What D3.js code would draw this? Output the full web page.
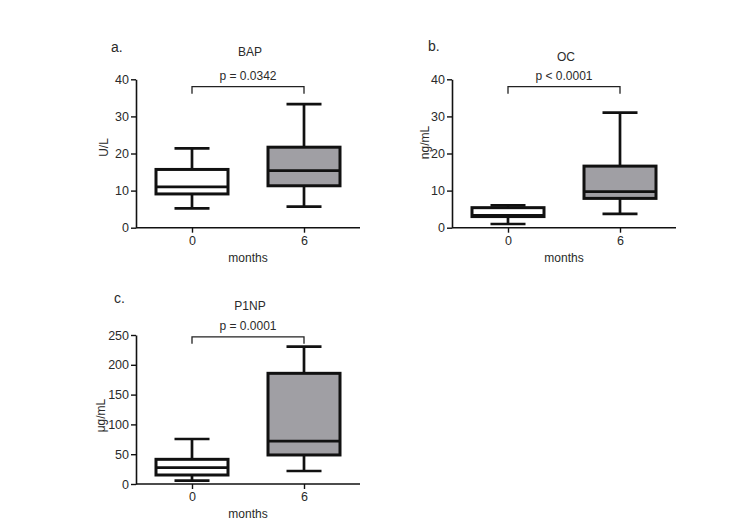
<!DOCTYPE html>
<html>
  <head>
    <meta http-equiv="Content-Type" content="text/html; charset=UTF-8">
    <script type="text/javascript" src="https://cdn.jsdelivr.net/npm/d3@7/dist/d3.min.js"></script>
    <style>
      body { margin: 0; background: #fff; }
      svg text { font-family: "Liberation Sans", Arial, sans-serif; fill: #2a2a2a; }
    </style>
  </head>
  <body>
    <div id="chart"></div>
    <script>
// data: [min, q1, median, q3, max] per group
var categories = ["0", "6"];
var bapStats = [[5.2, 9.1, 11.0, 15.7, 21.4], [5.7, 11.3, 15.4, 21.7, 33.3]];
var ocStats = [[1.0, 3.0, 3.3, 5.4, 6.0], [3.7, 7.9, 9.7, 16.6, 31.0]];
var p1npStats = [[5.6, 15.1, 27.4, 41.4, 75.5], [21.8, 48.7, 72.1, 185.7, 230.4]];
var bapTicks = [0, 10, 20, 30, 40];
var ocTicks = [0, 10, 20, 30, 40];
var p1npTicks = [0, 50, 100, 150, 200, 250];
var pLabels = ["p = 0.0342", "p < 0.0001", "p = 0.0001"];
var bracketValues = [38, 38, 247];

var fills = ["#ffffff", "#a09fa4"];

var svg = d3.select("#chart").append("svg")
    .attr("width", 750)
    .attr("height", 530);

var BoxPanel = function (config) {
  var left = config.left, top = config.top, bottom = config.bottom;
  var x = d3.scalePoint().domain(categories).range([left, left + 224]).padding(0.5);
  var y = d3.scaleLinear().domain([0, config.ticks[config.ticks.length - 1]]).range([bottom, top]);
  var boxW = 72, capW = 35;

  var g = svg.append("g");

  // y axis
  var ya = g.append("g")
      .attr("transform", "translate(" + left + ",0)")
      .call(d3.axisLeft(y).tickValues(config.ticks).tickSize(5).tickPadding(2).tickSizeOuter(0));
  // x axis
  var xa = g.append("g")
      .attr("transform", "translate(0," + bottom + ")")
      .call(d3.axisBottom(x).tickSize(5).tickPadding(3).tickSizeOuter(0));
  [ya, xa].forEach(function (a) {
    a.select(".domain").attr("stroke", "#111").attr("stroke-width", 1.6);
    a.selectAll(".tick line").attr("stroke", "#111").attr("stroke-width", 1.4);
    a.selectAll(".tick text").attr("font-size", "12.5px").attr("fill", "#2a2a2a")
      .attr("font-family", "Liberation Sans, Arial, sans-serif");
  });
  xa.select(".domain").attr("d", "M" + left + ",0H" + (left + 224));

  // boxes
  var box = g.selectAll(".box")
      .data(config.stats)
    .enter().append("g")
      .attr("class", "box");

  box.append("line")
      .attr("x1", function (d, i) { return x(categories[i]); })
      .attr("x2", function (d, i) { return x(categories[i]); })
      .attr("y1", function (d) { return y(d[0]); })
      .attr("y2", function (d) { return y(d[4]); })
      .attr("stroke", "#111").attr("stroke-width", 2.7);
  [0, 4].forEach(function (k) {
    box.append("line")
        .attr("x1", function (d, i) { return x(categories[i]) - capW / 2; })
        .attr("x2", function (d, i) { return x(categories[i]) + capW / 2; })
        .attr("y1", function (d) { return y(d[k]); })
        .attr("y2", function (d) { return y(d[k]); })
        .attr("stroke", "#111").attr("stroke-width", 2.7);
  });
  box.append("rect")
      .attr("x", function (d, i) { return x(categories[i]) - boxW / 2; })
      .attr("width", boxW)
      .attr("y", function (d) { return y(d[3]); })
      .attr("height", function (d) { return y(d[1]) - y(d[3]); })
      .attr("fill", function (d, i) { return fills[i]; })
      .attr("stroke", "#111").attr("stroke-width", 3);
  box.append("line")
      .attr("x1", function (d, i) { return x(categories[i]) - boxW / 2; })
      .attr("x2", function (d, i) { return x(categories[i]) + boxW / 2; })
      .attr("y1", function (d) { return y(d[2]); })
      .attr("y2", function (d) { return y(d[2]); })
      .attr("stroke", "#111").attr("stroke-width", 2.7);

  // significance bracket
  var by = y(config.bracket);
  g.append("path")
      .attr("d", "M" + x(categories[0]) + "," + (by + 7) + "V" + by + "H" + x(categories[1]) + "V" + (by + 7))
      .attr("fill", "none").attr("stroke", "#222").attr("stroke-width", 1.3);
  g.append("text")
      .attr("x", (x(categories[0]) + x(categories[1])) / 2)
      .attr("y", by - 7)
      .attr("text-anchor", "middle")
      .attr("font-size", "12px")
      .text(config.p);

  // titles
  g.append("text")
      .attr("x", left + 114)
      .attr("y", config.titleY)
      .attr("text-anchor", "middle")
      .attr("font-size", "12px")
      .text(config.title);
  g.append("text")
      .attr("x", left + config.letterDx)
      .attr("y", config.letterY)
      .attr("font-size", "14px")
      .text(config.letter);
  g.append("text")
      .attr("x", left + 112)
      .attr("y", bottom + 34)
      .attr("text-anchor", "middle")
      .attr("font-size", "12px")
      .text("months");
  g.append("text")
      .attr("transform", "translate(" + (left + config.labelDx) + "," + ((top + bottom) / 2 - config.labelDy) + ") rotate(-90)")
      .attr("text-anchor", "middle")
      .attr("font-size", "12px")
      .text(config.unit);
};

new BoxPanel({ left: 136, top: 79.3, bottom: 227.7, stats: bapStats, ticks: bapTicks,
  bracket: bracketValues[0], p: pLabels[0], title: "BAP", titleY: 56, letter: "a.", letterDx: -25, letterY: 52,
  unit: "U/L", labelDx: -28, labelDy: 6 });
new BoxPanel({ left: 452, top: 79.3, bottom: 227.7, stats: ocStats, ticks: ocTicks,
  bracket: bracketValues[1], p: pLabels[1], title: "OC", titleY: 61, letter: "b.", letterDx: -24, letterY: 51,
  unit: "ng/mL", labelDx: -23, labelDy: 11 });
new BoxPanel({ left: 136, top: 335, bottom: 484, stats: p1npStats, ticks: p1npTicks,
  bracket: bracketValues[2], p: pLabels[2], title: "P1NP", titleY: 310, letter: "c.", letterDx: -22, letterY: 303,
  unit: "\u03bcg/mL", labelDx: -31, labelDy: -6 });
    </script>
  </body>
</html>
